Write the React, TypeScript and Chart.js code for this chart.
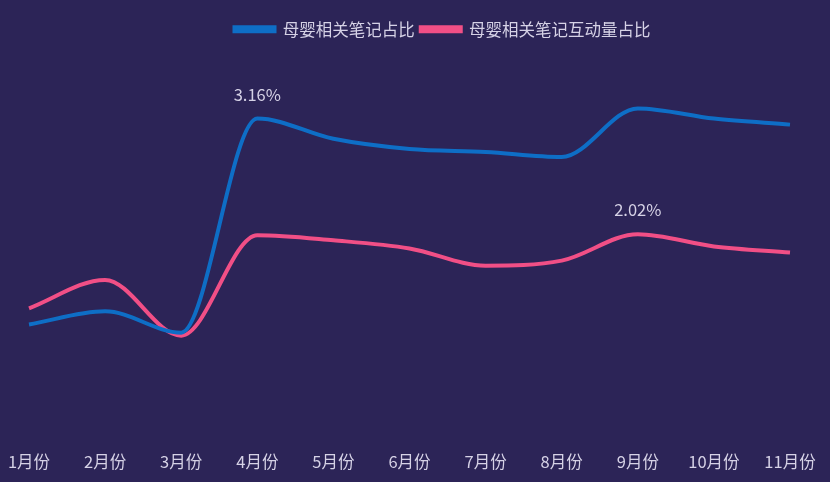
import React, { useEffect, useRef } from "react";
import { Chart, registerables } from "chart.js";

Chart.register(...registerables);

const months = ["1月份", "2月份", "3月份", "4月份", "5月份", "6月份", "7月份", "8月份", "9月份", "10月份", "11月份"];
const noteShare = [1.13, 1.26, 1.05, 3.16, 2.96, 2.86, 2.83, 2.78, 3.26, 3.16, 3.1];
const interactionShare = [1.29, 1.57, 1.02, 2.01, 1.96, 1.88, 1.71, 1.76, 2.02, 1.9, 1.84];
const seriesNames = ["母婴相关笔记占比", "母婴相关笔记互动量占比"];
const annotations = [
  { dataset: 0, index: 3, text: "3.16%" },
  { dataset: 1, index: 8, text: "2.02%" },
];

const BG = "#2c2457";
const BLUE = "#0e6ec6";
const PINK = "#f14f86";
const TEXT = "#d6d2e6";
const FONT = "'Noto Sans CJK SC', 'Noto Sans', sans-serif";

const bgPlugin = {
  id: "bg",
  beforeDraw(chart: any) {
    const { ctx, width, height } = chart;
    ctx.save();
    ctx.fillStyle = BG;
    ctx.fillRect(0, 0, width, height);
    ctx.restore();
  },
};

const legendShift = {
  id: "legendShift",
  afterLayout(chart: any) {
    const lg = chart.legend;
    if (lg) {
      lg.left += 33;
      lg.right += 33;
    }
  },
};

const labelPlugin = {
  id: "pointLabels",
  afterDatasetsDraw(chart: any) {
    const { ctx } = chart;
    ctx.save();
    ctx.font = `16.5px ${FONT}`;
    ctx.fillStyle = TEXT;
    ctx.textAlign = "center";
    ctx.textBaseline = "middle";
    annotations.forEach((a) => {
      const el = chart.getDatasetMeta(a.dataset).data[a.index];
      if (el) ctx.fillText(a.text, el.x, el.y - 24);
    });
    ctx.restore();
  },
};

export default function App() {
  const ref = useRef<HTMLCanvasElement>(null);
  useEffect(() => {
    if (!ref.current) return;
    const chart = new Chart(ref.current, {
      type: "line",
      data: {
        labels: months,
        datasets: [
          {
            label: seriesNames[0],
            data: noteShare,
            borderColor: BLUE,
            backgroundColor: BLUE,
            borderWidth: 4,
            pointRadius: 0,
            tension: 0.4,
            cubicInterpolationMode: "monotone",
          },
          {
            label: seriesNames[1],
            data: interactionShare,
            borderColor: PINK,
            backgroundColor: PINK,
            borderWidth: 4,
            pointRadius: 0,
            tension: 0.4,
            cubicInterpolationMode: "monotone",
          },
        ],
      },
      options: {
        animation: false,
        responsive: false,
        maintainAspectRatio: false,
        layout: { padding: { left: 29, right: 40, top: 15, bottom: 5 } },
        plugins: {
          legend: {
            display: true,
            position: "top",
            labels: {
              color: TEXT,
              font: { size: 16.5, family: FONT },
              boxWidth: 40,
              boxHeight: 4,
              padding: 6,
            },
          },
          tooltip: { enabled: false },
        },
        scales: {
          x: {
            offset: false,
            grid: { display: false },
            border: { display: false },
            ticks: {
              color: TEXT,
              font: { size: 16.5, family: FONT },
              maxRotation: 0,
              autoSkip: false,
              padding: 5,
            },
          },
          y: {
            display: false,
            min: 0,
            max: 3.86,
          },
        },
      },
      plugins: [bgPlugin, legendShift, labelPlugin],
    });
    return () => chart.destroy();
  }, []);
  return (
    <div style={{ position: "fixed", left: 0, top: 0, width: 830, height: 482, background: BG }}>
      <canvas ref={ref} width={830} height={482} style={{ display: "block" }} />
    </div>
  );
}
